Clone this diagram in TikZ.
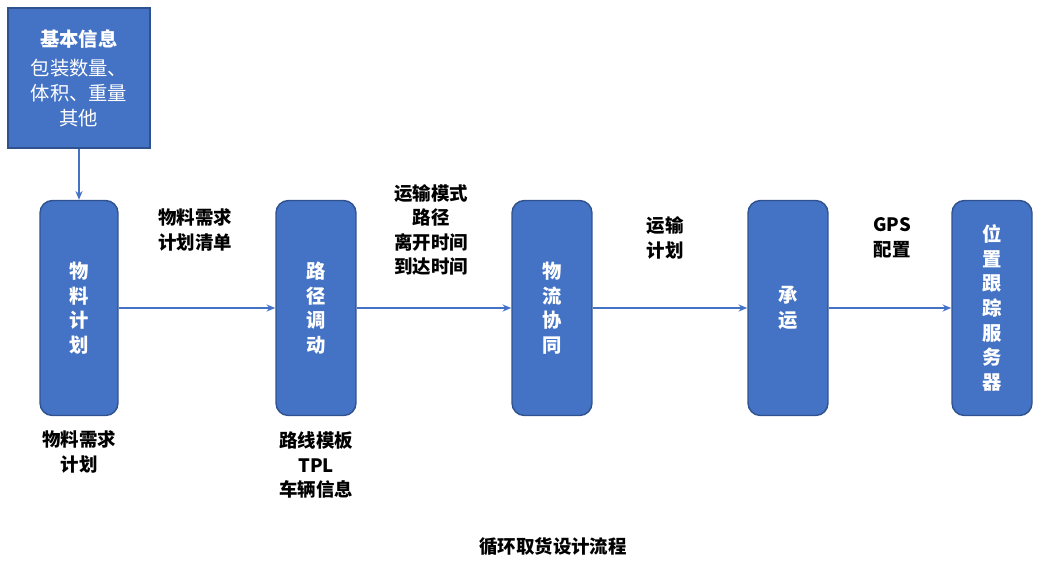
\documentclass[tikz,border=0pt]{standalone}
\usepackage{fontspec}
\setmainfont{Noto Sans CJK SC}
\usetikzlibrary{arrows.meta}
\definecolor{boxfill}{HTML}{4472C4}
\definecolor{boxline}{HTML}{2F528F}
\begin{document}
\begin{tikzpicture}[x=0.02cm,y=-0.02cm,
  blk/.style={draw=boxline,fill=boxfill,line width=0.8pt,rounded corners=7pt,text=white,font=\bfseries\fontsize{11}{14}\selectfont,align=center,inner sep=0pt},
  lbl/.style={font=\bfseries\fontsize{10.5}{14}\selectfont,align=center},
  arr/.style={-{Stealth[length=5pt,width=4pt]},draw=boxfill,line width=1pt}]
\useasboundingbox (0,0) rectangle (1042,566);
\node[draw=boxline,fill=boxfill,line width=0.8pt,minimum width=142\pgflinewidth,inner sep=0pt,text=white,align=center,font=\fontsize{11}{14}\selectfont] (info) at (79,78) [minimum width=2.84cm,minimum height=2.8cm] {\textbf{基本信息}\\[3pt]包装数量、\\体积、重量\\其他};
\node[blk,minimum width=1.56cm,minimum height=4.3cm] (b1) at (79,308) {物\\料\\计\\划};
\node[blk,minimum width=1.6cm,minimum height=4.3cm] (b2) at (316,308) {路\\径\\调\\动};
\node[blk,minimum width=1.6cm,minimum height=4.3cm] (b3) at (552,308) {物\\流\\协\\同};
\node[blk,minimum width=1.6cm,minimum height=4.3cm] (b4) at (788,308) {承\\运};
\node[blk,minimum width=1.6cm,minimum height=4.3cm] (b5) at (992,308) {位\\置\\跟\\踪\\服\\务\\器};
\draw[arr] (info) -- (b1);
\draw[arr] (b1) -- (b2);
\draw[arr] (b2) -- (b3);
\draw[arr] (b3) -- (b4);
\draw[arr] (b4) -- (b5);
\node[lbl] (t1) at (195,230) {物料需求\\计划清单};
\node[lbl] (t2) at (431,230) {运输模式\\路径\\离开时间\\到达时间};
\node[lbl] (t3) at (665,238) {运输\\计划};
\node[lbl] (t4) at (892,238) {GPS\\配置};
\node[lbl] (t5) at (79,452) {物料需求\\计划};
\node[lbl] (t6) at (316,465) {路线模板\\TPL\\车辆信息};
\node[lbl] (cap) at (553,547) {循环取货设计流程};
\end{tikzpicture}
\end{document}
